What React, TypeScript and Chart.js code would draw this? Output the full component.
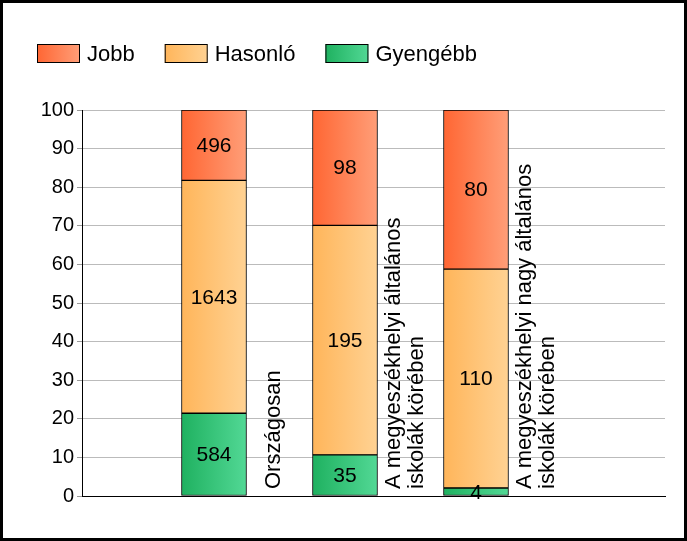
import { useEffect, useRef } from "react";
import { Chart, registerables } from "chart.js";

Chart.register(...registerables);

const categories: string[][] = [
  ["Országosan"],
  ["A megyeszékhelyi általános", "iskolák körében"],
  ["A megyeszékhelyi nagy általános", "iskolák körében"],
];
const legendNames = ["Jobb", "Hasonló", "Gyengébb"];
const jobb = [496, 98, 80];
const hasonlo = [1643, 195, 110];
const gyengebb = [584, 35, 4];
const yMin = 0;
const yMax = 100;
const yStep = 10;

const FONT = "Arial, 'Liberation Sans', sans-serif";
const gradJobb = ["#FF6633", "#FF9E78"];
const gradHasonlo = ["#FFB55A", "#FFD293"];
const gradGyengebb = ["#1FB160", "#52D895"];
const BAR_W = 65;
const X_MIN = -0.0076;
const X_MAX = X_MIN + 583 / 131;

const totals = jobb.map((v, i) => v + hasonlo[i] + gyengebb[i]);
const pct = (arr: number[]) => arr.map((v, i) => ({ x: i + 1, y: (v / totals[i]) * 100 }));

function gradFill(colors: string[]) {
  return (ctx: any) => {
    const chart = ctx.chart;
    const xs = chart.scales && chart.scales.x;
    if (!chart.chartArea || !xs || ctx.dataIndex === undefined) return colors[0];
    const cx = xs.getPixelForValue(ctx.dataIndex + 1);
    const g = chart.ctx.createLinearGradient(cx - BAR_W / 2, 0, cx + BAR_W / 2, 0);
    g.addColorStop(0, colors[0]);
    g.addColorStop(1, colors[1]);
    return g;
  };
}

const framePlugin = {
  id: "frame",
  afterDraw(chart: any) {
    const c = chart.ctx;
    c.save();
    c.strokeStyle = "#000";
    c.lineWidth = 3;
    c.strokeRect(1.5, 1.5, chart.width - 3, chart.height - 3);
    c.restore();
  },
};

const legendPlugin = {
  id: "customLegend",
  afterDraw(chart: any) {
    const c = chart.ctx;
    const grads = [gradJobb, gradHasonlo, gradGyengebb];
    c.save();
    c.font = `22px ${FONT}`;
    c.textBaseline = "middle";
    c.textAlign = "left";
    let x = 37;
    const y = 44;
    const bw = 43;
    const bh = 19;
    legendNames.forEach((name, i) => {
      const g = c.createLinearGradient(x, 0, x + bw, 0);
      g.addColorStop(0, grads[i][0]);
      g.addColorStop(1, grads[i][1]);
      c.fillStyle = g;
      c.fillRect(x, y, bw, bh);
      c.strokeStyle = "#000";
      c.lineWidth = 1;
      c.strokeRect(x + 0.5, y + 0.5, bw - 1, bh - 1);
      c.fillStyle = "#000";
      const tx = x + bw + 7;
      c.fillText(name, tx, y + bh / 2 + 1);
      x = tx + c.measureText(name).width + 30;
    });
    c.restore();
  },
};

const valueLabelPlugin = {
  id: "valueLabels",
  afterDatasetsDraw(chart: any) {
    const c = chart.ctx;
    c.save();
    c.font = `21px ${FONT}`;
    c.fillStyle = "#000";
    c.textAlign = "center";
    c.textBaseline = "middle";
    chart.data.datasets.forEach((ds: any, di: number) => {
      const meta = chart.getDatasetMeta(di);
      meta.data.forEach((el: any, i: number) => {
        const p = el.getProps(["x", "y", "base"], true);
        c.fillText(String(ds.counts[i]), p.x, (p.y + p.base) / 2 + 1);
      });
    });
    c.restore();
  },
};

const categoryLabelPlugin = {
  id: "categoryLabels",
  afterDraw(chart: any) {
    const c = chart.ctx;
    const xs = chart.scales.x;
    const bottom = chart.chartArea.bottom - 7;
    c.save();
    c.font = `22px ${FONT}`;
    c.fillStyle = "#000";
    c.textAlign = "left";
    c.textBaseline = "alphabetic";
    categories.forEach((lines, i) => {
      const cx = xs.getPixelForValue(i + 1);
      lines.forEach((line, j) => {
        const bx = cx + 59 + (j - (lines.length - 1) / 2) * 23 + 7.5;
        c.save();
        c.translate(bx, bottom);
        c.rotate(-Math.PI / 2);
        c.fillText(line, 0, 0);
        c.restore();
      });
    });
    c.restore();
  },
};

export default function App() {
  const ref = useRef<HTMLCanvasElement | null>(null);

  useEffect(() => {
    document.body.style.margin = "0";
    const canvas = ref.current;
    if (!canvas) return;
    const chart = new Chart(canvas, {
      type: "bar",
      data: {
        datasets: [
          {
            label: legendNames[2],
            data: pct(gyengebb),
            counts: gyengebb,
            backgroundColor: gradFill(gradGyengebb),
          } as any,
          {
            label: legendNames[1],
            data: pct(hasonlo),
            counts: hasonlo,
            backgroundColor: gradFill(gradHasonlo),
          } as any,
          {
            label: legendNames[0],
            data: pct(jobb),
            counts: jobb,
            backgroundColor: gradFill(gradJobb),
          } as any,
        ],
      },
      options: {
        responsive: false,
        animation: false,
        devicePixelRatio: 1,
        layout: { padding: { left: 0, top: 110, right: 22, bottom: 45 } },
        datasets: {
          bar: {
            barThickness: BAR_W,
            borderColor: "#000",
            borderWidth: 1,
            borderSkipped: false,
          } as any,
        },
        plugins: {
          legend: { display: false },
          tooltip: { enabled: false },
        },
        scales: {
          x: {
            type: "linear",
            stacked: true,
            offset: false,
            min: X_MIN,
            max: X_MAX,
            bounds: "ticks",
            grid: { display: false, offset: false },
            ticks: { display: false },
            border: { display: true, color: "#000", width: 1 },
            afterFit(scale: any) {
              scale.height = 0;
            },
          },
          y: {
            stacked: true,
            min: yMin,
            max: yMax,
            ticks: {
              stepSize: yStep,
              color: "#000",
              font: { family: FONT, size: 20 },
              padding: 3,
            },
            grid: { color: "#BBBBBB", tickColor: "#999999", tickLength: 5 },
            border: { display: true, color: "#000", width: 1 },
            afterFit(scale: any) {
              scale.width = 82;
            },
          },
        },
      } as any,
      plugins: [valueLabelPlugin, categoryLabelPlugin, legendPlugin, framePlugin],
    });
    return () => chart.destroy();
  }, []);

  return (
    <div style={{ position: "absolute", left: 0, top: 0, width: 687, height: 541 }}>
      <canvas ref={ref} width={687} height={541} style={{ width: 687, height: 541, display: "block" }} />
    </div>
  );
}
